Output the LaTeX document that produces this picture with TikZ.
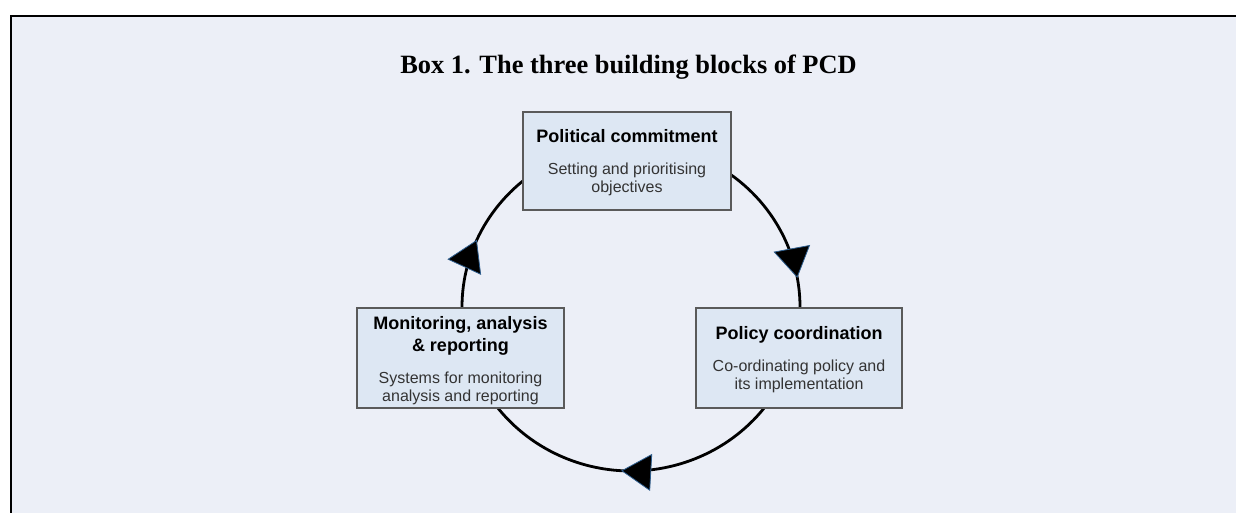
\documentclass[tikz,border=0pt]{standalone}
\usepackage{fontspec}
\setmainfont{Liberation Serif}
\newfontfamily\boxfont{Liberation Sans}
\usetikzlibrary{arrows.meta,decorations.markings,calc}

\definecolor{panelbg}{HTML}{ECEFF7}
\definecolor{blockfill}{HTML}{DDE7F3}
\definecolor{blockedge}{HTML}{5A5A5A}
\definecolor{subtext}{HTML}{333333}
\definecolor{edgeblue}{HTML}{2F5F8F}

\tikzset{
  blockbox/.style={draw=blockedge, fill=blockfill, line width=1.3pt,
    inner sep=0pt, outer sep=0pt, rectangle},
  headtxt/.style={anchor=base, inner sep=0pt, font=\boxfont\bfseries\fontsize{18}{21}\selectfont, text=black},
  subtxt/.style={anchor=base, inner sep=0pt, font=\boxfont\fontsize{16}{19}\selectfont, text=subtext},
  looparc/.style={draw=black, line width=2.8pt, postaction={decorate},
    decoration={markings, mark=at position #1 with
      {\arrow{Triangle[length=30pt,width=37pt,line width=0.8pt,color=edgeblue,fill=black]}}}}
}

\begin{document}
\begin{tikzpicture}[x=1pt,y=1pt]
\useasboundingbox (0,0) rectangle (1236,513);

% panel with rule on top and left
\fill[panelbg] (11,-2) rectangle (1240,497);
\draw[line width=2pt] (11,-2) -- (11,497) -- (1240,497);

% heading
\node[anchor=base, inner sep=0pt, font=\bfseries\fontsize{26.4}{30}\selectfont] (heading) at (628.5,439)
  {Box 1. The three building blocks of PCD};

% centre of the cycle
\coordinate (hub) at (631,206);

% cycle arcs (ends are hidden under the blocks)
\draw[looparc=0.74] ($(hub)+(56:169pt and 164pt)$)
  arc[start angle=56, end angle=-6, x radius=169pt, y radius=164pt];
\draw[looparc=0.53] ($(hub)+(-34:169pt and 164pt)$)
  arc[start angle=-34, end angle=-146, x radius=169pt, y radius=164pt];
\draw[looparc=0.50] ($(hub)+(186:169pt and 164pt)$)
  arc[start angle=186, end angle=126, x radius=169pt, y radius=164pt];

% blocks
\node[blockbox, minimum width=208pt, minimum height=98pt] (commit) at (627,352) {};
\node[blockbox, minimum width=206pt, minimum height=100pt] (coord) at (799,155) {};
\node[blockbox, minimum width=207pt, minimum height=100pt] (monitor) at (460.5,155) {};

% block texts
\node[headtxt] (commit-h) at (627,370) {Political commitment};
\node[subtxt] (commit-s1) at (627,338) {Setting and prioritising};
\node[subtxt] (commit-s2) at (627,320) {objectives};

\node[headtxt] (coord-h) at (799,173) {Policy coordination};
\node[subtxt] (coord-s1) at (799,141) {Co-ordinating policy and};
\node[subtxt] (coord-s2) at (799,123) {its implementation};

\node[headtxt] (monitor-h1) at (460.5,183.7) {Monitoring, analysis};
\node[headtxt] (monitor-h2) at (460.5,161.3) {\& reporting};
\node[subtxt] (monitor-s1) at (460.5,129.7) {Systems for monitoring};
\node[subtxt] (monitor-s2) at (460.5,111.3) {analysis and reporting};
\end{tikzpicture}
\end{document}
